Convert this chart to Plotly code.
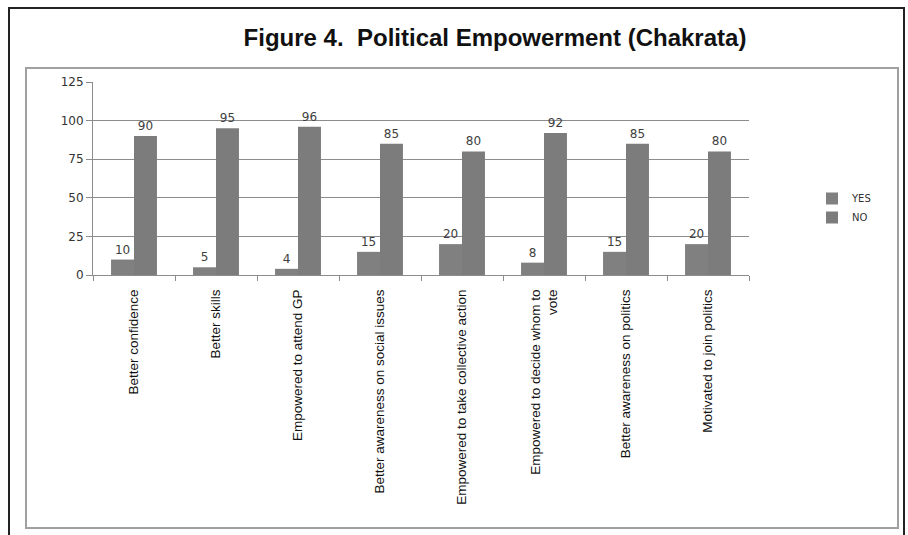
import plotly.graph_objects as go

categories = [
    "Better confidence",
    "Better skills",
    "Empowered to attend GP",
    "Better awareness on social issues",
    "Empowered to take collective action",
    "Empowered to decide whom to<br>vote",
    "Better awareness on politics",
    "Motivated to join politics",
]
yes_values = [10, 5, 4, 15, 20, 8, 15, 20]
no_values = [90, 95, 96, 85, 80, 92, 85, 80]
y_ticks = [0, 25, 50, 75, 100, 125]

W, H = 908, 535
L, R, T, B = 93, 749, 82, 275  # plot area in pixels


def px(x):
    return (x - L) / (R - L)


def py(y):
    return (B - y) / (B - T)


num_font = dict(family="DejaVu Sans, Verdana", size=12, color="#404040")

fig = go.Figure()
fig.add_trace(go.Bar(
    name="YES", x=categories, y=yes_values,
    marker=dict(color="#808080", line=dict(width=0)),
    text=yes_values, textposition="outside", textfont=num_font,
    cliponaxis=False,
))
fig.add_trace(go.Bar(
    name="NO", x=categories, y=no_values,
    marker=dict(color="#7c7c7c", line=dict(width=0)),
    text=no_values, textposition="outside", textfont=num_font,
    cliponaxis=False,
))

fig.update_layout(
    width=W, height=H,
    margin=dict(l=L, r=W - R, t=T, b=H - B, pad=0),
    paper_bgcolor="white", plot_bgcolor="white",
    barmode="group", bargap=0.44, bargroupgap=0,
    showlegend=True,
    legend=dict(x=px(812), y=py(184), xanchor="left", yanchor="top",
                font=dict(family="DejaVu Sans, Verdana", size=10, color="#333333"),
                itemwidth=30, tracegroupgap=0, bgcolor="rgba(0,0,0,0)"),
    title=dict(text="<b>Figure 4.  Political Empowerment (Chakrata)</b>",
               x=495 / W, xanchor="center", y=1 - 38 / H, yanchor="middle",
               font=dict(family="Liberation Sans, Arial, sans-serif", size=24, color="#111111")),
)

fig.update_xaxes(
    type="category", showgrid=False, showline=True, linecolor="#8c8c8c", linewidth=1,
    ticks="outside", ticklen=5, tickcolor="#8c8c8c", tickson="boundaries",
    tickangle=-90, ticklabelstandoff=8,
    tickfont=dict(family="Liberation Sans, Arial, sans-serif", size=13.5, color="#111111"),
)
fig.update_yaxes(
    range=[0, 125], tickvals=y_ticks, showgrid=True, gridcolor="#8c8c8c", gridwidth=1,
    showline=True, linecolor="#8c8c8c", linewidth=1,
    ticks="outside", ticklen=6, tickcolor="#8c8c8c",
    tickfont=dict(family="DejaVu Sans, Verdana", size=12, color="#333333"),
    zeroline=False,
)

# outer black frame and inner gray chart frame
fig.add_shape(type="rect", xref="paper", yref="paper",
              x0=px(9), x1=px(904), y0=py(545), y1=py(8),
              line=dict(color="#222222", width=2), layer="below")
fig.add_shape(type="rect", xref="paper", yref="paper",
              x0=px(26), x1=px(898), y0=py(528), y1=py(68),
              line=dict(color="#a0a0a0", width=2), layer="below")

fig.write_html("out.html")
